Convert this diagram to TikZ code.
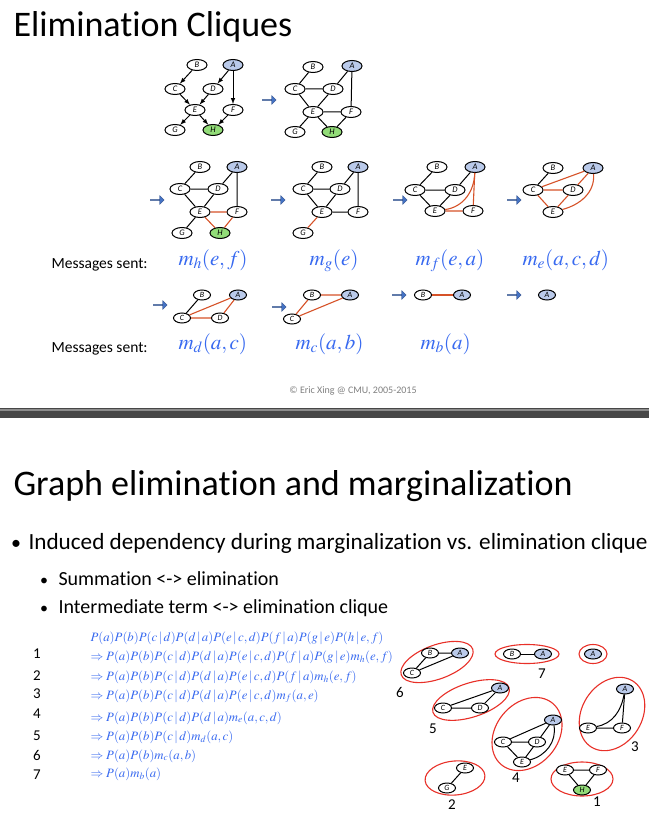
\documentclass[tikz,border=0pt]{standalone}
\usepackage{mathptmx}
\usepackage[no-math]{fontspec}
\setmainfont{Carlito}[Ligatures=NoCommon]
\usetikzlibrary{shapes.geometric,shapes.arrows}

\definecolor{msgblue}{RGB}{55,105,240}
\definecolor{ablue}{RGB}{186,202,234}
\definecolor{hgreen}{RGB}{146,220,120}
\definecolor{elimred}{RGB}{214,82,40}
\definecolor{ringred}{RGB}{232,48,40}
\definecolor{arrowblue}{RGB}{68,114,196}

\tikzset{
  var/.style={ellipse, draw, line width=1pt, fill=white, minimum width=20pt, minimum height=11pt,
    inner sep=0pt, font=\fontsize{8.5}{8.5}\selectfont\itshape},
  smallvar/.style={var, minimum width=17pt, minimum height=10pt, font=\fontsize{8}{8}\selectfont\itshape},
  qa/.style={fill=ablue},
  qh/.style={fill=hgreen},
  fillin/.style={elimred, line width=1.1pt},
  ring/.style={ringred, line width=1.1pt},
  move/.style={single arrow, draw=arrowblue!70!black, fill=arrowblue, minimum height=14pt,
    minimum width=9pt, single arrow head extend=2pt, inner sep=0pt},
  msg/.style={anchor=base west, text=msgblue, font=\fontsize{21}{21}\selectfont},
  eqline/.style={anchor=base west, text=msgblue, font=\fontsize{12.8}{12.8}\selectfont},
  num/.style={anchor=base, font=\fontsize{15}{15}\selectfont},
}

\begin{document}
\begin{tikzpicture}[x=1pt, y=1pt]
  \useasboundingbox[fill=white] (0,0) rectangle (649,-813);

  % slide 1
  \node[anchor=base west, font=\fontsize{36}{36}\selectfont] (title1) at (10,-37) {Elimination Cliques};

  % directed graph
  \node[var] (B1) at (197,-65) {B};
  \node[var, qa] (A1) at (233,-65) {A};
  \node[var] (C1) at (175,-89) {C};
  \node[var] (D1) at (213,-89) {D};
  \node[var] (E1) at (195,-110) {E};
  \node[var] (F1) at (233,-110) {F};
  \node[var] (G1) at (175,-130) {G};
  \node[var, qh] (H1) at (213,-130) {H};
  \draw[->, >=latex, line width=1pt] (B1) -- (C1);
  \draw[->, >=latex, line width=1pt] (A1) -- (D1);
  \draw[->, >=latex, line width=1pt] (A1) -- (F1);
  \draw[->, >=latex, line width=1pt] (C1) -- (E1);
  \draw[->, >=latex, line width=1pt] (D1) -- (E1);
  \draw[->, >=latex, line width=1pt] (E1) -- (G1);
  \draw[->, >=latex, line width=1pt] (E1) -- (H1);
  \draw[->, >=latex, line width=1pt] (F1) -- (H1);

  \node[move] (ar0) at (269,-100) {};

  % moral graph
  \node[var] (B2) at (313,-67) {B};
  \node[var, qa] (A2) at (352,-66) {A};
  \node[var] (C2) at (295,-89) {C};
  \node[var] (D2) at (333,-89) {D};
  \node[var] (E2) at (313,-112) {E};
  \node[var] (F2) at (351,-112) {F};
  \node[var] (G2) at (295,-132) {G};
  \node[var, qh] (H2) at (332,-132) {H};
  \draw[line width=1pt] (B2) -- (C2) (C2) -- (D2) (A2) -- (D2) (A2) -- (F2) (C2) -- (E2)
    (D2) -- (E2) (E2) -- (F2) (E2) -- (G2) (E2) -- (H2) (F2) -- (H2);

  % eliminate H
  \node[move] (ar1) at (157,-200) {};
  \node[var] (B3) at (200,-167) {B};
  \node[var, qa] (A3) at (237,-167) {A};
  \node[var] (C3) at (180,-189) {C};
  \node[var] (D3) at (218,-189) {D};
  \node[var] (E3) at (200,-212) {E};
  \node[var] (F3) at (237,-212) {F};
  \node[var] (G3) at (182,-233) {G};
  \node[var, qh] (H3) at (220,-233) {H};
  \draw[line width=1pt] (B3) -- (C3) (C3) -- (D3) (A3) -- (D3) (A3) -- (F3) (C3) -- (E3)
    (D3) -- (E3) (E3) -- (G3);
  \draw[fillin] (E3) -- (F3) (E3) -- (H3) (F3) -- (H3);

  % eliminate G
  \node[move] (ar2) at (278,-200) {};
  \node[var] (B4) at (322,-167) {B};
  \node[var, qa] (A4) at (358,-167) {A};
  \node[var] (C4) at (303,-189) {C};
  \node[var] (D4) at (340,-189) {D};
  \node[var] (E4) at (322,-212) {E};
  \node[var] (F4) at (358,-212) {F};
  \node[var] (G4) at (303,-233) {G};
  \draw[line width=1pt] (B4) -- (C4) (C4) -- (D4) (A4) -- (D4) (A4) -- (F4) (C4) -- (E4)
    (D4) -- (E4) (E4) -- (F4);
  \draw[fillin] (E4) -- (G4);

  % eliminate F
  \node[move] (ar3) at (400,-200) {};
  \node[var] (B5) at (437,-167) {B};
  \node[var, qa] (A5) at (475,-167) {A};
  \node[var] (C5) at (415,-190) {C};
  \node[var] (D5) at (455,-190) {D};
  \node[var] (E5) at (435,-211) {E};
  \node[var] (F5) at (473,-211) {F};
  \draw[line width=1pt] (B5) -- (C5) (C5) -- (D5) (A5) -- (D5) (C5) -- (E5) (D5) -- (E5);
  \draw[fillin] (E5) -- (F5) (A5) -- (F5);
  \draw[fillin] (E5) to[out=8, in=-92] (A5);

  % eliminate E
  \node[move] (ar4) at (514,-200) {};
  \node[var] (B6) at (553,-168) {B};
  \node[var, qa] (A6) at (593,-168) {A};
  \node[var] (C6) at (533,-190) {C};
  \node[var] (D6) at (573,-190) {D};
  \node[var] (E6) at (553,-212) {E};
  \draw[line width=1pt] (B6) -- (C6);
  \draw[fillin] (C6) -- (A6) (C6) -- (D6) (D6) -- (A6) (C6) -- (E6) (E6) -- (D6);
  \draw[fillin] (E6) to[out=15, in=-85] (A6);

  \node[anchor=base west, font=\fontsize{15.5}{15.5}\selectfont] (sent1) at (48,-268) {Messages sent:};
  \node[msg] (mh) at (175,-265) {$m_h(e,f)$};
  \node[msg] (mg) at (306,-265) {$m_g(e)$};
  \node[msg] (mf) at (412,-265) {$m_f(e,a)$};
  \node[msg] (me) at (519,-265) {$m_e(a,c,d)$};

  % eliminate D, C, B
  \node[move] (ar5) at (160,-305) {};
  \node[smallvar] (B7) at (202,-295) {B};
  \node[smallvar, qa] (A7) at (238,-295) {A};
  \node[smallvar] (C7) at (182,-318) {C};
  \node[smallvar] (D7) at (220,-318) {D};
  \draw[line width=1pt] (B7) -- (C7);
  \draw[fillin] (C7) -- (A7) (C7) -- (D7) (D7) -- (A7);

  \node[move] (ar6) at (279,-307) {};
  \node[smallvar] (B8) at (312,-295) {B};
  \node[smallvar, qa] (A8) at (350,-295) {A};
  \node[smallvar] (C8) at (292,-319) {C};
  \draw[fillin] (B8) -- (A8) (C8) -- (B8) (C8) -- (A8);

  \node[move] (ar7) at (399,-295) {};
  \node[smallvar] (B9) at (423,-295) {B};
  \node[smallvar, qa] (A9) at (462,-295) {A};
  \draw[fillin] (B9) -- (A9);

  \node[move] (ar8) at (514,-295) {};
  \node[smallvar, qa] (A10) at (547,-295) {A};

  \node[anchor=base west, font=\fontsize{15.5}{15.5}\selectfont] (sent2) at (48,-352) {Messages sent:};
  \node[msg] (md) at (175,-349) {$m_d(a,c)$};
  \node[msg] (mc) at (292,-349) {$m_c(a,b)$};
  \node[msg] (mb) at (417,-349) {$m_b(a)$};

  \node[text=black!50, font=\fontsize{10}{10}\selectfont] (copy) at (353,-391) {\textcopyright{} Eric Xing @ CMU, 2005-2015};

  % slide separator
  \fill[black!72] (0,-408) rectangle (649,-418);
  \draw[black!45, line width=1.5pt] (0,-410) -- (649,-410);

  % slide 2
  \node[anchor=base west, font=\fontsize{36}{36}\selectfont] (title2) at (10,-495) {Graph elimination and marginalization};
  \node[anchor=base, font=\fontsize{20}{20}\selectfont] (dot1) at (16,-549) {•};
  \node[anchor=base west, font=\fontsize{23.2}{23.2}\selectfont] (item1) at (25,-549) {Induced dependency during marginalization vs. elimination clique};
  \node[anchor=base, font=\fontsize{16}{16}\selectfont] (dot2) at (44,-585) {•};
  \node[anchor=base west, font=\fontsize{20}{20}\selectfont] (item2) at (55,-585) {Summation <-> elimination};
  \node[anchor=base, font=\fontsize{16}{16}\selectfont] (dot3) at (44,-613) {•};
  \node[anchor=base west, font=\fontsize{20}{20}\selectfont] (item3) at (55,-613) {Intermediate term <-> elimination clique};

  \node[eqline] (eq0) at (87,-641) {$P(a)P(b)P(c\,|\,d)P(d\,|\,a)P(e\,|\,c,d)P(f\,|\,a)P(g\,|\,e)P(h\,|\,e,f)$};
  \node[eqline] (eq1) at (87,-660) {$\Rightarrow P(a)P(b)P(c\,|\,d)P(d\,|\,a)P(e\,|\,c,d)P(f\,|\,a)P(g\,|\,e)m_h(e,f)$};
  \node[eqline] (eq2) at (87,-680) {$\Rightarrow P(a)P(b)P(c\,|\,d)P(d\,|\,a)P(e\,|\,c,d)P(f\,|\,a)m_h(e,f)$};
  \node[eqline] (eq3) at (87,-699) {$\Rightarrow P(a)P(b)P(c\,|\,d)P(d\,|\,a)P(e\,|\,c,d)m_f(a,e)$};
  \node[eqline] (eq4) at (87,-721) {$\Rightarrow P(a)P(b)P(c\,|\,d)P(d\,|\,a)m_e(a,c,d)$};
  \node[eqline] (eq5) at (87,-740) {$\Rightarrow P(a)P(b)P(c\,|\,d)m_d(a,c)$};
  \node[eqline] (eq6) at (87,-759) {$\Rightarrow P(a)P(b)m_c(a,b)$};
  \node[eqline] (eq7) at (87,-777) {$\Rightarrow P(a)m_b(a)$};
  \foreach \n/\y in {1/658,2/680,3/698,4/718,5/740,6/760,7/779}
    \node[num] (step\n) at (37,-\y) {\n};

  % elimination cliques
  \draw[ring, rotate around={20:(437,-662)}] (437,-662) ellipse (38 and 17);
  \node[smallvar] (Br6) at (430,-653) {B};
  \node[smallvar, qa] (Ar6) at (460,-653) {A};
  \node[smallvar] (Cr6) at (412,-673) {C};
  \draw[line width=1pt] (Br6) -- (Ar6) (Br6) -- (Cr6) (Cr6) -- (Ar6);
  \node[num] (lab6) at (400,-697) {6};

  \draw[ring] (527,-654) ellipse (32 and 9.5);
  \node[smallvar] (Br7) at (512,-654) {B};
  \node[smallvar, qa] (Ar7) at (543,-654) {A};
  \draw[line width=1pt] (Br7) -- (Ar7);
  \node[num] (lab7) at (542,-678) {7};

  \draw[ring] (593,-654) ellipse (14 and 9.5);
  \node[smallvar, qa] (Ar0) at (593,-654) {A};

  \draw[ring, rotate around={18:(471,-700)}] (471,-700) ellipse (40 and 17);
  \node[smallvar, qa] (Ar5) at (500,-688) {A};
  \node[smallvar] (Cr5) at (443,-708) {C};
  \node[smallvar] (Dr5) at (480,-708) {D};
  \draw[line width=1pt] (Cr5) -- (Ar5) (Cr5) -- (Dr5) (Dr5) -- (Ar5);
  \node[num] (lab5) at (433,-733) {5};

  \draw[ring, rotate around={50:(527,-734)}] (527,-734) ellipse (40 and 31);
  \node[smallvar, qa] (Ar4) at (553,-720) {A};
  \node[smallvar] (Cr4) at (503,-742) {C};
  \node[smallvar] (Dr4) at (537,-742) {D};
  \node[smallvar] (Er4) at (522,-762) {E};
  \draw[line width=1pt] (Cr4) -- (Ar4) (Cr4) -- (Dr4) (Dr4) -- (Ar4) (Cr4) -- (Er4) (Dr4) -- (Er4);
  \draw[line width=1pt] (Er4) to[out=15, in=-80] (Ar4);
  \node[num] (lab4) at (516,-782) {4};

  \draw[ring, rotate around={58:(612,-714)}] (612,-714) ellipse (39 and 30);
  \node[smallvar, qa] (Ar3) at (625,-689) {A};
  \node[smallvar] (Er3) at (588,-728) {E};
  \node[smallvar] (Fr3) at (622,-728) {F};
  \draw[line width=1pt] (Ar3) -- (Fr3) (Er3) -- (Fr3);
  \draw[line width=1pt] (Er3) to[out=10, in=-100] (Ar3);
  \node[num] (lab3) at (635,-751) {3};

  \draw[ring, rotate around={5:(455,-778)}] (455,-778) ellipse (30 and 17);
  \node[smallvar] (Er2) at (465,-768) {E};
  \node[smallvar] (Gr2) at (447,-788) {G};
  \draw[line width=1pt] (Er2) -- (Gr2);
  \node[num] (lab2) at (452,-809) {2};

  \draw[ring] (582,-779) ellipse (31 and 17);
  \node[smallvar] (Er1) at (565,-770) {E};
  \node[smallvar] (Fr1) at (598,-770) {F};
  \node[smallvar, qh] (Hr1) at (582,-790) {H};
  \draw[line width=1pt] (Er1) -- (Fr1) (Er1) -- (Hr1) (Fr1) -- (Hr1);
  \node[num] (lab1) at (597,-806) {1};
\end{tikzpicture}
\end{document}
